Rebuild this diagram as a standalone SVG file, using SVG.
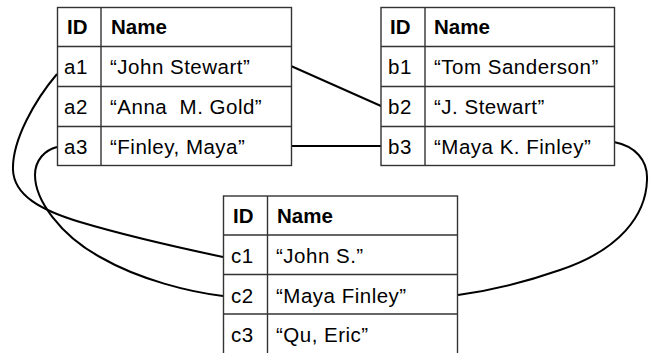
<svg xmlns="http://www.w3.org/2000/svg" width="652" height="353" viewBox="0 0 652 353">
<style>
.cell{fill:#fff;stroke:#333;stroke-width:1.4}
.ln{stroke:#333;stroke-width:1.4}
text{font-family:"Liberation Sans",Arial,sans-serif;font-size:20.5px;fill:#000;white-space:pre;letter-spacing:0.5px}
.h{font-weight:bold;letter-spacing:0}
.c{fill:none;stroke:#000;stroke-width:2}
</style>
<g id="connectors">
<path class="c" d="M291,66 L381,106"/>
<path class="c" d="M291,146 L381,146"/>
<path class="c" d="M57,74 C35,100 12,140 13,170 C14,195 40,210 80,222 C130,237 190,250 223,257"/>
<path class="c" d="M57,147 C45,150 35,160 35,175 C35,200 60,235 100,257 C140,280 190,292 223,296"/>
<path class="c" d="M614,142 C635,146 648,160 647,180 C646,215 620,250 560,270 C520,284 480,292 458,295"/>
</g>
<g id="tableA">
<rect class="cell" x="57.5" y="7.5" width="234" height="158"/>
<line class="ln" x1="101" y1="7.5" x2="101" y2="165.5"/>
<line class="ln" x1="57.5" y1="46.5" x2="291.5" y2="46.5"/>
<line class="ln" x1="57.5" y1="86.5" x2="291.5" y2="86.5"/>
<line class="ln" x1="57.5" y1="126.5" x2="291.5" y2="126.5"/>
<text class="h" x="67" y="34">ID</text><text class="h" x="111" y="34">Name</text>
<text x="64" y="74">a1</text><text x="110" y="74">“John Stewart”</text>
<text x="64" y="114">a2</text><text x="110" y="114">“Anna  M. Gold”</text>
<text x="64" y="154">a3</text><text x="110" y="154">“Finley, Maya”</text>
</g>
<g id="tableB">
<rect class="cell" x="381" y="7.5" width="233.5" height="158"/>
<line class="ln" x1="425" y1="7.5" x2="425" y2="165.5"/>
<line class="ln" x1="381" y1="46.5" x2="614.5" y2="46.5"/>
<line class="ln" x1="381" y1="86.5" x2="614.5" y2="86.5"/>
<line class="ln" x1="381" y1="126.5" x2="614.5" y2="126.5"/>
<text class="h" x="390" y="34">ID</text><text class="h" x="434" y="34">Name</text>
<text x="388" y="74">b1</text><text x="434" y="74">“Tom Sanderson”</text>
<text x="388" y="114">b2</text><text x="434" y="114">“J. Stewart”</text>
<text x="388" y="154">b3</text><text x="434" y="154">“Maya K. Finley”</text>
</g>
<g id="tableC">
<rect class="cell" x="223.5" y="196" width="234" height="170"/>
<line class="ln" x1="267.5" y1="196" x2="267.5" y2="366"/>
<line class="ln" x1="223.5" y1="235" x2="457.5" y2="235"/>
<line class="ln" x1="223.5" y1="274.5" x2="457.5" y2="274.5"/>
<line class="ln" x1="223.5" y1="314" x2="457.5" y2="314"/>
<text class="h" x="233" y="223">ID</text><text class="h" x="277" y="223">Name</text>
<text x="231" y="263">c1</text><text x="276" y="263">“John S.”</text>
<text x="231" y="303">c2</text><text x="276" y="303">“Maya Finley”</text>
<text x="231" y="342">c3</text><text x="276" y="342">“Qu, Eric”</text>
</g>
</svg>
